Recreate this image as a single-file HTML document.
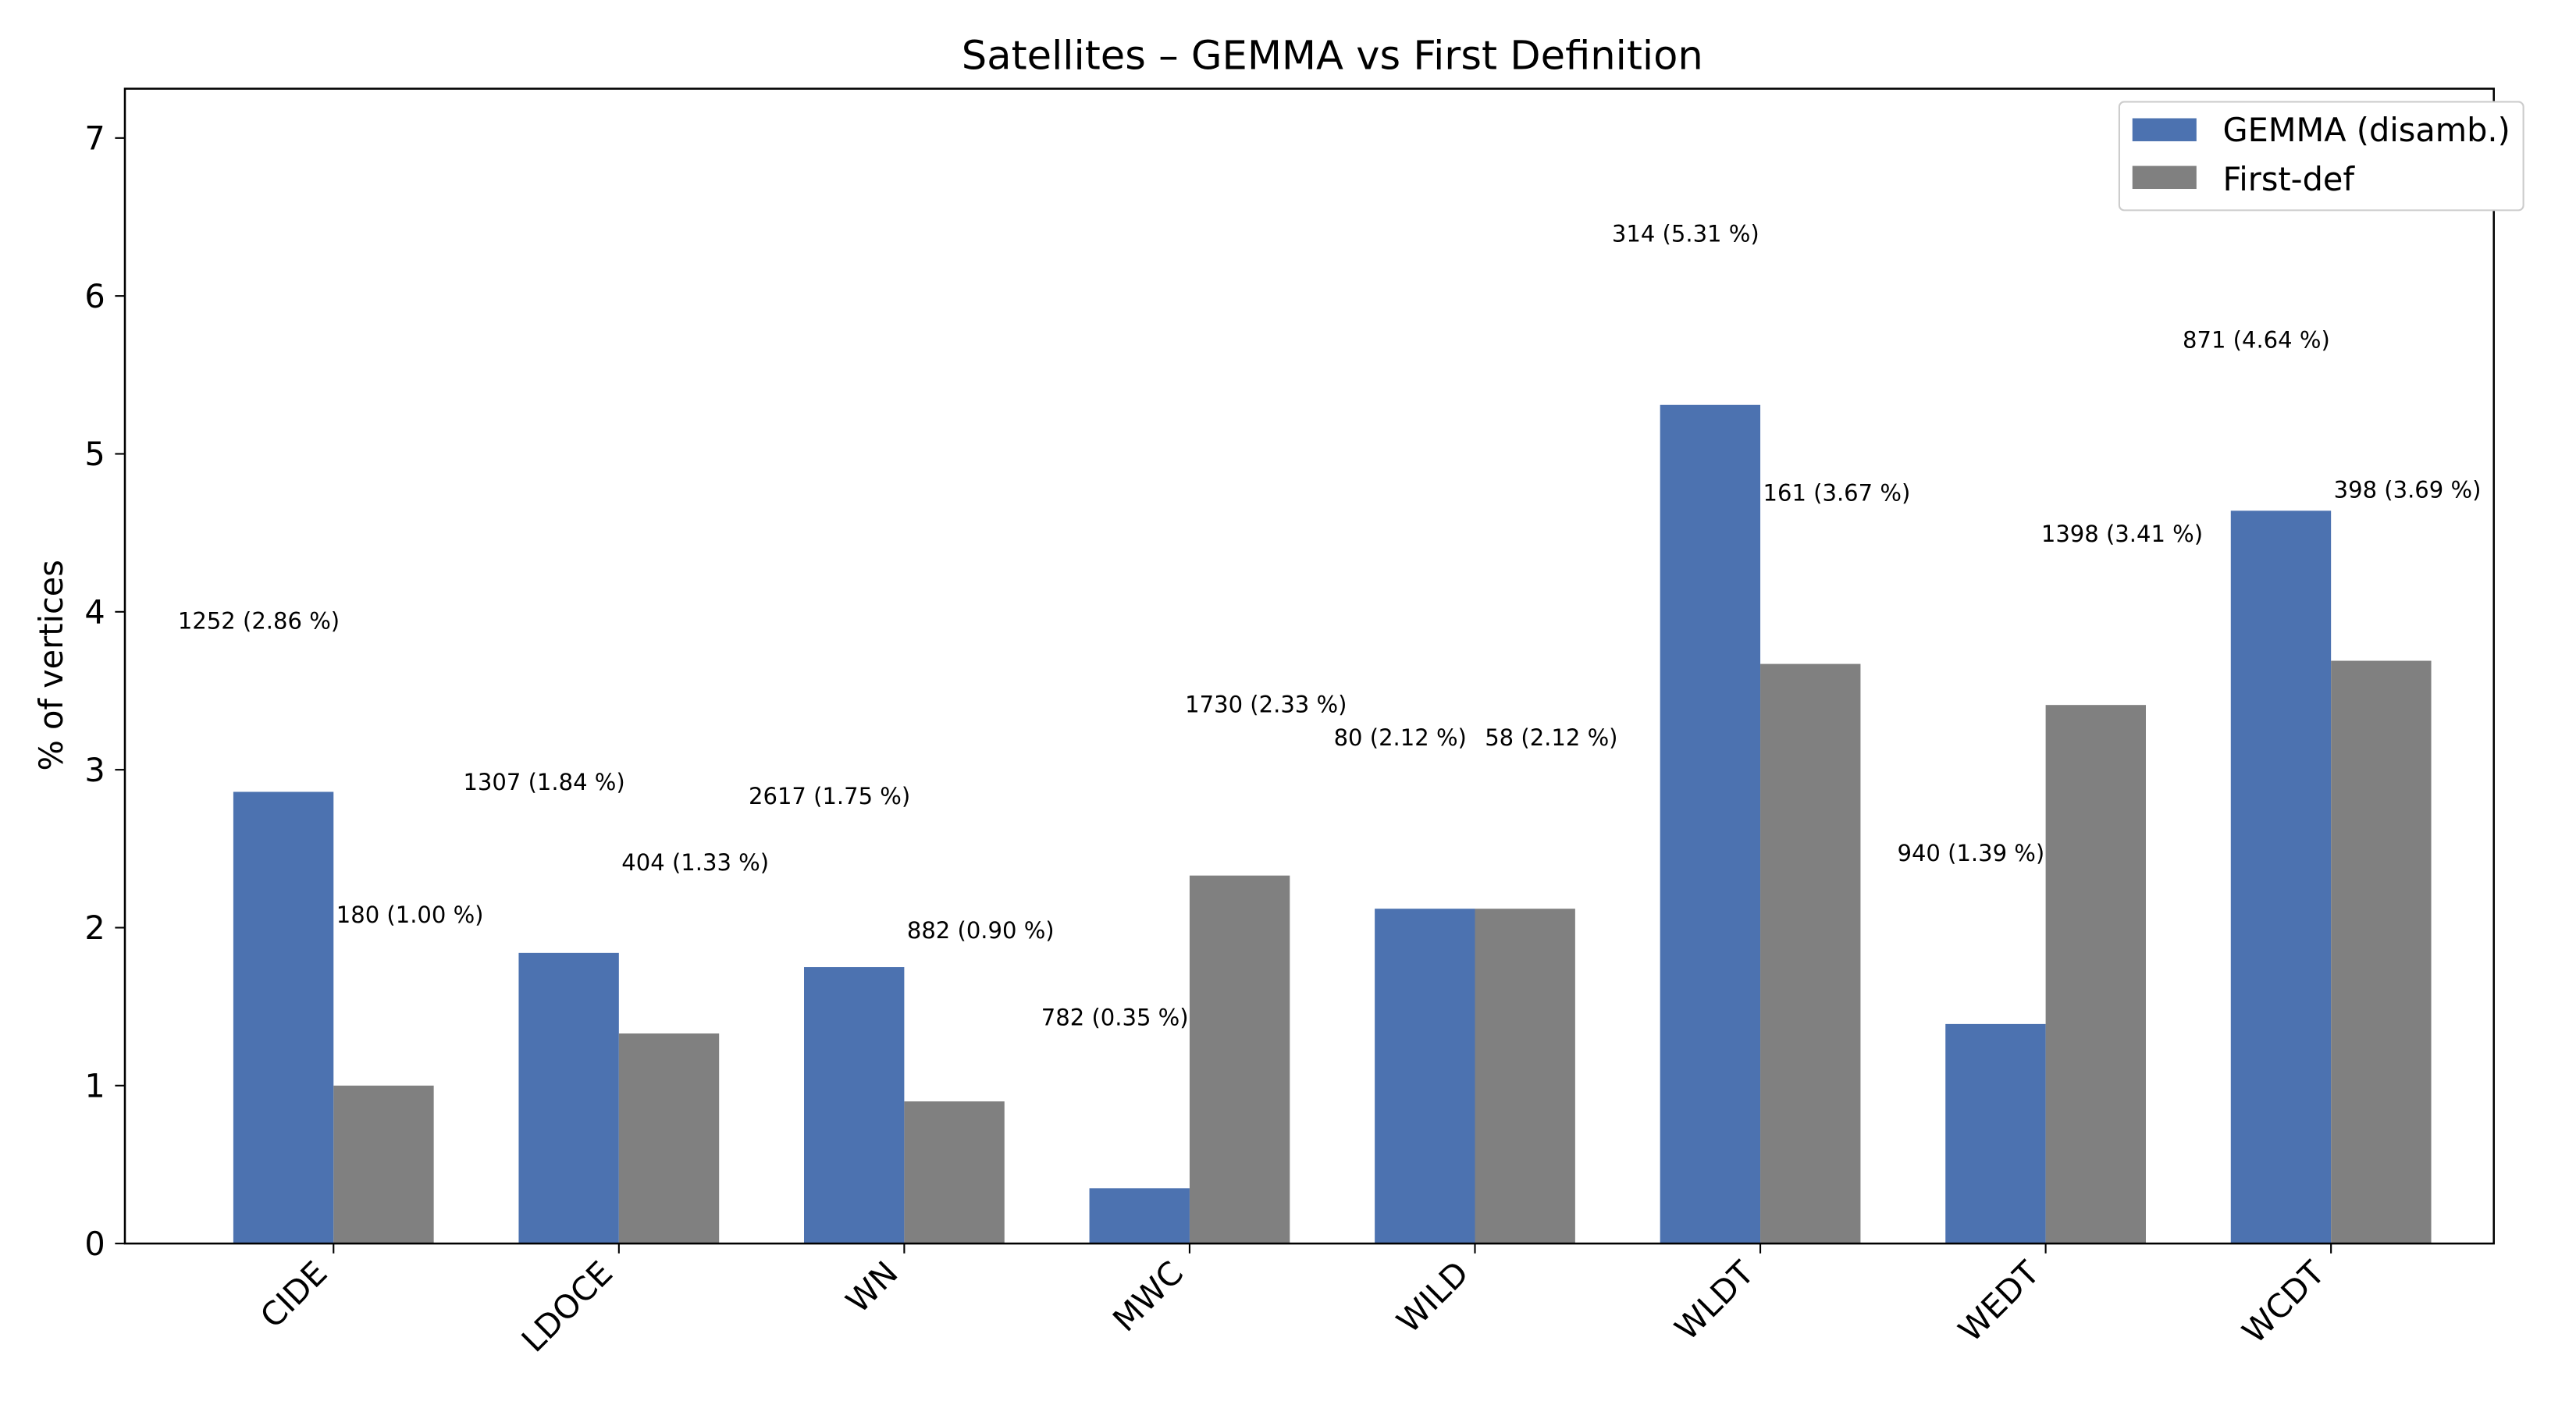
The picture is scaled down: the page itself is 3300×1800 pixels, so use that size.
<!DOCTYPE html>
<html><head><meta charset="utf-8"><style>
html,body{margin:0;padding:0;background:#fff;}
svg{display:block;font-family:"DejaVu Sans","Liberation Sans",sans-serif;}
</style></head><body>
<svg id="chart" width="3300" height="1800" viewBox="0 0 1568 855.3" xmlns="http://www.w3.org/2000/svg">
<rect x="0" y="0" width="1568" height="856" fill="#fff"/>
<text x="811" y="42" font-size="24.3" text-anchor="middle">Satellites – GEMMA vs First Definition</text>
<g id="bars"></g>
<g id="labels"></g>
<g id="yaxis"></g>
<g id="xaxis"></g>
<rect x="76" y="54" width="1442" height="703" fill="none" stroke="#000" stroke-width="1.2"/>
<text transform="translate(38,405) rotate(-90)" font-size="19.7" text-anchor="middle">% of vertices</text>
<g>
<rect x="1290" y="62" width="246" height="66" rx="3" fill="#fff" stroke="#ccc" stroke-width="1"/>
<rect x="1298" y="72" width="39" height="14" fill="#4c72b0"/>
<text x="1353" y="86" font-size="19.7">GEMMA (disamb.)</text>
<rect x="1298" y="101" width="39" height="14" fill="#808080"/>
<text x="1353" y="116" font-size="19.7">First-def</text>
</g>
</svg>
<script>
const categories = ["CIDE","LDOCE","WN","MWC","WILD","WLDT","WEDT","WCDT"];
const gemmaValues = [2.86,1.84,1.75,0.35,2.12,5.31,1.39,4.64];
const firstDefValues = [1.00,1.33,0.90,2.33,2.12,3.67,3.41,3.69];
const gemmaCounts = [1252,1307,2617,782,80,314,940,871];
const firstDefCounts = [180,404,882,1730,58,161,1398,398];
const yTicks = [0,1,2,3,4,5,6,7];

const NS = "http://www.w3.org/2000/svg";
const y = v => 757 - v * 96.14;
const xc = i => 203 + i * 173.7;
const bw = 61;
function mk(tag, attrs, parent, txt){
  const e = document.createElementNS(NS, tag);
  for (const k in attrs) e.setAttribute(k, attrs[k]);
  if (txt !== undefined) e.textContent = txt;
  document.getElementById(parent).appendChild(e);
  return e;
}
categories.forEach((c, i) => {
  const b1 = mk("rect", {x: xc(i)-bw, y: y(gemmaValues[i]), width: bw, height: y(0)-y(gemmaValues[i]), fill: "#4c72b0"}, "bars");
  
  
  const b2 = mk("rect", {x: xc(i), y: y(firstDefValues[i]), width: bw, height: y(0)-y(firstDefValues[i]), fill: "#808080"}, "bars");
  
  
  const l1 = mk("text", {x: xc(i)-bw/2-15, y: y(gemmaValues[i]+1.08)+4.5, "font-size": 13.8, "text-anchor": "middle"}, "labels", gemmaCounts[i] + " (" + gemmaValues[i].toFixed(2) + " %)");
  
  
  const l2 = mk("text", {x: xc(i)+bw/2+16, y: y(firstDefValues[i]+1.08)+4.5, "font-size": 13.8, "text-anchor": "middle"}, "labels", firstDefCounts[i] + " (" + firstDefValues[i].toFixed(2) + " %)");
  
  
  const t = mk("line", {x1: xc(i), x2: xc(i), y1: 757, y2: 763, stroke: "#000", "stroke-width": 1}, "xaxis");
  
  
  const tl = mk("text", {transform: "translate(" + (xc(i)-13) + ",766) rotate(-45)", "font-size": 19.7, "text-anchor": "end", "dominant-baseline": "hanging"}, "xaxis", c);
  
  
});
yTicks.forEach(v => {
  const t = mk("line", {x1: 70, x2: 76, y1: y(v), y2: y(v), stroke: "#000", "stroke-width": 1}, "yaxis");
  
  
  const tl = mk("text", {x: 64, y: y(v)+7, "font-size": 19.7, "text-anchor": "end"}, "yaxis", String(v));
  
  
});
</script>
</body></html>
